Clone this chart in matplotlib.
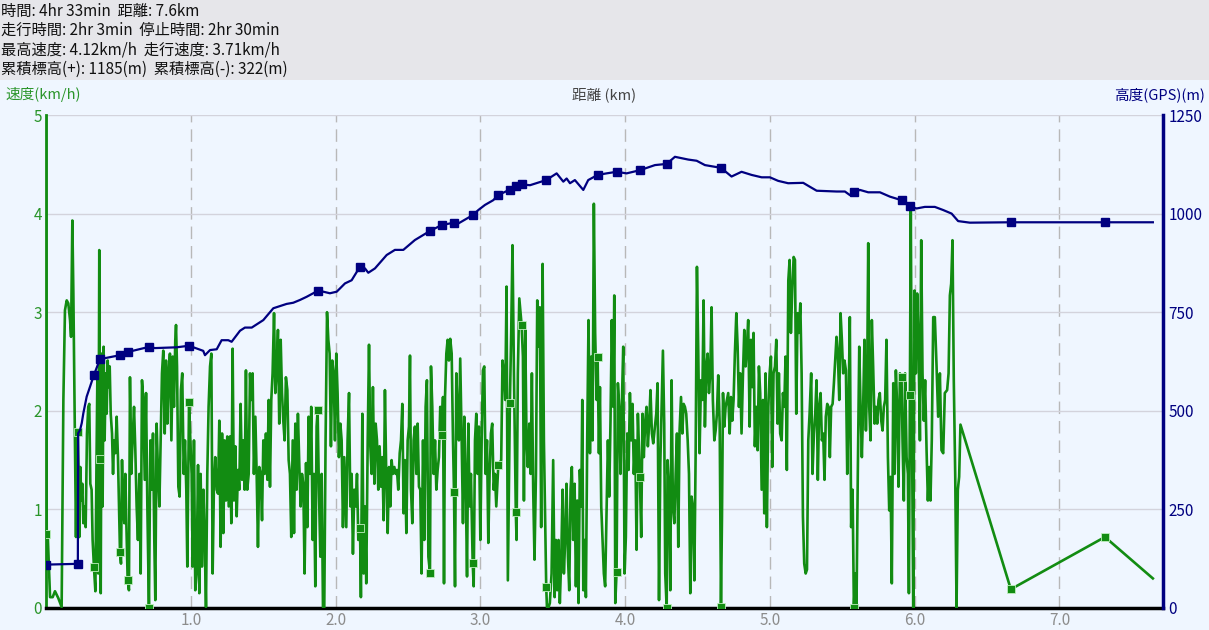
import matplotlib
matplotlib.use("Agg")
import matplotlib.pyplot as plt
import numpy as np

plt.rcParams['font.family'] = ['Noto Sans CJK JP', 'DejaVu Sans']

# header summary
header_lines = [
    "時間: 4hr 33min  距離: 7.6km",
    "走行時間: 2hr 3min  停止時間: 2hr 30min",
    "最高速度: 4.12km/h  走行速度: 3.71km/h",
    "累積標高(+): 1185(m)  累積標高(-): 322(m)",
]

# waypoints (distance m, speed km/h, elevation m)
wp_dist = [0, 220, 331, 373, 511, 564, 711, 988, 1876, 2168, 2652, 2733, 2818, 2947,
           3124, 3204, 3246, 3285, 3455, 3810, 3941, 4102, 4287, 4662, 5580, 5909,
           5967, 6664, 7314]
wp_speed = [0.75, 1.78, 0.42, 1.51, 0.57, 0.28, 0.0, 2.09, 2.01, 0.81, 0.36, 1.75, 1.18,
            0.46, 1.45, 2.08, 0.97, 2.87, 0.21, 2.55, 0.37, 1.33, 0.0, 0.01, 0.0, 2.34,
            2.16, 0.19, 0.72]
wp_elev = [110, 112, 591, 631, 641, 649, 662, 665, 804, 865, 956, 971, 977, 996,
           1047, 1061, 1070, 1074, 1085, 1098, 1106, 1110, 1126, 1116, 1054, 1034,
           1019, 978, 978]

# elevation track (distance m, elevation m)
elev_track = [
    (0, 110), (220, 112), (222, 443), (235, 451), (247, 469), (258, 494), (281, 536),
    (304, 561), (331, 591), (373, 631), (511, 641), (564, 649), (711, 662), (753, 659),
    (903, 661), (988, 665), (1086, 652), (1098, 641), (1133, 654), (1179, 656),
    (1213, 679), (1259, 679), (1282, 675), (1340, 703), (1374, 711), (1421, 711),
    (1501, 730), (1570, 760), (1662, 771), (1708, 774), (1754, 781), (1800, 789),
    (1876, 804), (1915, 802), (1961, 798), (2008, 802), (2065, 823), (2111, 831),
    (2168, 865), (2203, 861), (2226, 850), (2272, 861), (2353, 895), (2410, 908),
    (2468, 908), (2548, 933), (2652, 956), (2733, 971), (2818, 977), (2848, 975),
    (2947, 996), (2986, 1009), (3032, 1022), (3089, 1034), (3124, 1047), (3204, 1061),
    (3246, 1070), (3285, 1074), (3343, 1072), (3455, 1085), (3527, 1102), (3573, 1081),
    (3596, 1089), (3619, 1077), (3653, 1085), (3711, 1060), (3745, 1085), (3810, 1098),
    (3872, 1102), (3941, 1106), (4010, 1102), (4102, 1110), (4206, 1123), (4287, 1126),
    (4344, 1144), (4436, 1137), (4494, 1134), (4551, 1123), (4662, 1116), (4735, 1094),
    (4804, 1106), (4874, 1098), (4943, 1092), (5000, 1092), (5057, 1083), (5126, 1077),
    (5230, 1078), (5276, 1068), (5323, 1058), (5461, 1056), (5518, 1056), (5552, 1047),
    (5580, 1054), (5622, 1060), (5679, 1054), (5760, 1054), (5829, 1043), (5909, 1034),
    (5967, 1019), (6013, 1013), (6070, 1017), (6139, 1017), (6197, 1009), (6255, 1000),
    (6300, 981), (6381, 977), (6664, 978), (7314, 978), (7645, 978),
]

# speed track (distance m, speed km/h), one list per km
speed_km0 = [
    (0, 5.0), (5, 0.75), (12, 0.74), (28, 0.11), (46, 0.11), (62, 0.17), (85, 0.10),
    (108, 0.01), (115, 1.2), (120, 2.11), (131, 3.02), (143, 3.12), (154, 3.09),
    (166, 2.92), (173, 2.75), (182, 3.93), (189, 3.19), (196, 2.21), (203, 1.2),
    (207, 0.72), (212, 1.43), (219, 1.78), (226, 1.36), (230, 0.72), (237, 1.43),
    (244, 1.09), (251, 1.26), (258, 0.86), (267, 1.03), (274, 0.82), (283, 1.77),
    (292, 2.04), (299, 2.07), (306, 1.26), (315, 1.2), (322, 0.69), (331, 0.42),
    (341, 0.17), (348, 1.36), (355, 2.38), (361, 0.35), (368, 3.63), (373, 1.51),
    (378, 0.15), (384, 2.58), (391, 1.03), (398, 2.65), (405, 1.7), (412, 2.38),
    (419, 1.97), (426, 2.51), (433, 2.24), (440, 2.45), (447, 1.97), (456, 1.77),
    (463, 1.36), (470, 1.7), (479, 1.57), (488, 1.94), (497, 1.53), (504, 1.03),
    (511, 0.57), (518, 0.45), (525, 1.5), (532, 1.03), (541, 0.86), (548, 1.36),
    (555, 0.86), (564, 0.28), (573, 0.18), (580, 2.34), (589, 1.36), (598, 1.7),
    (608, 2.04), (617, 1.6), (626, 1.03), (635, 0.69), (645, 1.36), (654, 0.35),
    (663, 2.31), (672, 2.11), (682, 1.3), (691, 2.18), (700, 1.03), (711, 0.0),
    (721, 1.7), (730, 1.2), (739, 1.77), (748, 0.69), (755, 0.08), (764, 1.87),
    (774, 1.36), (783, 1.03), (792, 1.7), (801, 2.38), (810, 2.61), (820, 1.77),
    (829, 2.51), (838, 1.87), (847, 2.38), (856, 2.58), (866, 1.7), (875, 2.55),
    (884, 2.04), (893, 2.72), (898, 2.87), (905, 2.45), (914, 1.23), (923, 1.13),
    (932, 2.21), (941, 2.38), (951, 1.36), (960, 1.7), (969, 1.2), (976, 0.42),
    (988, 2.09), (997, 1.7), (1006, 1.36),
]
speed_km1 = [
    (1013, 0.42), (1022, 1.7), (1031, 0.18), (1040, 0.35), (1050, 1.45), (1059, 0.15),
    (1068, 1.36), (1077, 0.42), (1087, 1.2), (1096, 0.69), (1105, 0.01), (1114, 1.36),
    (1123, 2.04), (1133, 2.45), (1142, 2.58), (1151, 0.35), (1160, 1.26), (1169, 1.53),
    (1179, 1.2), (1188, 1.16), (1197, 1.9), (1206, 0.62), (1216, 1.77), (1225, 0.76),
    (1234, 1.7), (1243, 1.09), (1252, 1.74), (1262, 1.03), (1271, 1.74), (1280, 0.86),
    (1289, 2.63), (1298, 1.09), (1308, 1.64), (1317, 0.93), (1326, 1.4), (1335, 1.2),
    (1344, 2.07), (1354, 1.3), (1363, 1.7), (1372, 1.2), (1381, 2.41), (1390, 1.2),
    (1400, 1.36), (1409, 2.38), (1418, 2.11), (1427, 2.38), (1436, 1.36), (1446, 1.94),
    (1455, 1.36), (1464, 0.62), (1473, 1.43), (1483, 1.36), (1492, 0.89), (1501, 1.7),
    (1510, 1.36), (1519, 1.77), (1529, 1.3), (1538, 2.11), (1547, 1.23), (1556, 2.11),
    (1565, 2.38), (1575, 2.99), (1584, 2.18), (1593, 2.41), (1602, 2.82), (1611, 1.87),
    (1621, 2.72), (1630, 2.18), (1639, 1.9), (1648, 1.7), (1657, 2.34), (1667, 2.21),
    (1676, 1.5), (1685, 1.36), (1694, 0.72), (1704, 1.7), (1713, 0.76), (1722, 1.87),
    (1731, 1.2), (1740, 1.97), (1750, 1.43), (1759, 1.03), (1768, 1.36), (1777, 1.26),
    (1786, 0.35), (1796, 1.47), (1805, 0.82), (1814, 1.94), (1823, 1.36), (1832, 2.04),
    (1842, 0.69), (1851, 1.36), (1860, 0.22), (1869, 1.84), (1876, 2.01), (1885, 1.2),
    (1895, 0.52), (1904, 1.36), (1913, 0.01), (1922, 0.0), (1931, 1.7), (1941, 3.0),
    (1950, 2.72), (1959, 2.58), (1968, 1.64), (1977, 2.51), (1987, 2.38), (1996, 1.7),
    (2005, 2.58), (2014, 2.18), (2023, 1.53), (2033, 1.87), (2042, 1.7), (2051, 0.82),
    (2060, 1.53),
]
speed_km2 = [
    (2074, 0.82), (2083, 1.7), (2093, 2.18), (2102, 1.03), (2111, 1.36), (2120, 0.55),
    (2129, 1.2), (2139, 1.03), (2148, 1.36), (2157, 0.69), (2169, 0.81), (2175, 0.11),
    (2185, 1.97), (2194, 0.35), (2203, 1.03), (2212, 0.25), (2222, 1.7), (2231, 2.67),
    (2240, 1.64), (2249, 1.36), (2258, 2.24), (2268, 1.26), (2277, 1.87), (2286, 1.7),
    (2295, 1.2), (2304, 1.64), (2314, 1.23), (2323, 1.53), (2332, 0.89), (2341, 2.21),
    (2350, 1.36), (2360, 0.76), (2369, 1.43), (2378, 1.03), (2387, 1.5), (2396, 1.36),
    (2406, 1.43), (2415, 1.36), (2424, 1.4), (2433, 1.2), (2443, 1.57), (2452, 1.7),
    (2461, 2.07), (2470, 0.96), (2479, 1.5), (2489, 0.76), (2498, 1.7), (2507, 1.84),
    (2514, 2.56), (2521, 1.2), (2530, 0.86), (2539, 1.7), (2548, 1.84), (2558, 1.36),
    (2567, 1.87), (2576, 1.23), (2585, 1.2), (2594, 0.35), (2604, 1.7), (2613, 0.69),
    (2622, 2.04), (2631, 2.31), (2641, 0.52), (2652, 0.36), (2659, 2.45), (2668, 2.04),
    (2677, 1.36), (2687, 1.7), (2696, 1.2), (2705, 1.4), (2714, 1.53), (2723, 2.04),
    (2733, 1.75), (2742, 2.14), (2749, 0.25), (2756, 2.14), (2765, 2.58), (2774, 2.72),
    (2783, 2.51), (2792, 2.73), (2802, 2.58), (2811, 1.7), (2818, 1.18), (2825, 0.22),
    (2834, 2.38), (2843, 1.97), (2852, 1.7), (2861, 2.53), (2871, 1.7), (2880, 0.86),
    (2889, 1.94), (2898, 1.36), (2908, 0.32), (2917, 1.87), (2926, 1.03), (2935, 1.36),
    (2947, 0.46), (2954, 0.22), (2963, 1.7), (2972, 1.97), (2981, 1.36), (2990, 1.84),
    (3000, 0.69), (3009, 1.7), (3018, 2.41), (3027, 2.45), (3036, 1.36), (3046, 1.7),
    (3055, 0.66), (3064, 1.36), (3073, 1.77), (3082, 1.87), (3092, 1.2), (3101, 1.36),
    (3110, 1.03), (3124, 1.45),
]
speed_km3 = [
    (3144, 1.5), (3153, 2.51), (3163, 2.38), (3172, 2.11), (3181, 3.26), (3190, 0.28),
    (3204, 2.08), (3213, 2.79), (3222, 3.68), (3232, 2.38), (3245, 0.97), (3250, 0.69),
    (3259, 2.38), (3269, 3.14), (3278, 2.99), (3285, 2.87), (3294, 2.55), (3301, 1.09),
    (3310, 2.82), (3319, 1.7), (3328, 1.43), (3338, 1.87), (3347, 1.36), (3356, 2.38),
    (3365, 1.2), (3374, 0.49), (3384, 1.36), (3393, 3.12), (3402, 2.65), (3411, 3.05),
    (3420, 0.82), (3430, 3.49), (3439, 1.7), (3448, 0.86), (3455, 0.21), (3460, 0.01),
    (3469, 0.0), (3480, 0.05), (3492, 0.35), (3503, 1.5), (3513, 0.11), (3522, 0.69),
    (3531, 0.18), (3540, 0.69), (3549, 0.05), (3559, 0.52), (3568, 1.2), (3577, 0.35),
    (3586, 0.69), (3595, 1.26), (3605, 0.52), (3614, 0.18), (3623, 1.2), (3632, 1.43),
    (3641, 0.69), (3651, 1.26), (3660, 0.22), (3669, 1.09), (3678, 0.05), (3687, 1.4),
    (3697, 1.03), (3704, 2.11), (3711, 0.18), (3720, 0.69), (3729, 0.11), (3738, 1.7),
    (3747, 2.92), (3757, 1.57), (3766, 2.55), (3775, 1.7), (3784, 4.1), (3793, 2.79),
    (3803, 2.11), (3810, 2.55), (3819, 1.57), (3826, 2.24), (3835, 1.03), (3844, 0.69),
    (3853, 0.35), (3862, 0.22), (3872, 1.03), (3881, 1.7), (3890, 1.13), (3899, 1.9),
    (3908, 2.92), (3918, 2.04), (3925, 3.17), (3932, 0.05), (3941, 0.37), (3950, 2.28),
    (3959, 2.04), (3968, 1.36), (3978, 2.11), (3987, 2.65), (3996, 0.35), (4005, 0.72),
    (4014, 1.77), (4024, 1.4), (4033, 2.18), (4042, 1.7), (4051, 2.07), (4060, 1.36),
    (4070, 1.7), (4079, 0.59), (4088, 1.97), (4102, 1.33), (4111, 0.72), (4120, 1.97),
    (4129, 1.53), (4139, 1.9), (4148, 2.04), (4157, 1.64), (4166, 1.87), (4175, 2.21),
    (4185, 1.77), (4194, 1.67),
]
speed_km4 = [
    (4215, 1.97), (4224, 2.28), (4234, 0.08), (4243, 1.47), (4252, 2.04), (4261, 2.61),
    (4270, 1.87), (4277, 0.35), (4287, 0.0), (4293, 1.5), (4303, 1.2), (4312, 0.18),
    (4321, 2.31), (4330, 1.03), (4340, 0.86), (4349, 1.36), (4358, 1.77), (4367, 0.62),
    (4376, 1.8), (4386, 2.14), (4395, 1.77), (4404, 2.07), (4413, 2.04), (4422, 1.97),
    (4432, 1.7), (4441, 1.36), (4450, 0.15), (4459, 1.13), (4468, 1.03), (4478, 0.28),
    (4487, 1.57), (4496, 3.46), (4505, 2.61), (4514, 1.57), (4524, 2.31), (4533, 2.11),
    (4542, 3.12), (4551, 1.84), (4561, 2.45), (4570, 2.58), (4579, 2.18), (4588, 2.38),
    (4597, 3.05), (4606, 2.11), (4616, 1.7), (4625, 1.8), (4634, 1.97), (4643, 2.36),
    (4653, 1.87), (4662, 0.01), (4669, 0.93), (4676, 2.18), (4685, 1.84), (4694, 2.04),
    (4703, 2.11), (4712, 2.18), (4722, 1.77), (4731, 2.14), (4740, 1.9), (4749, 2.11),
    (4758, 2.58), (4768, 2.99), (4777, 2.65), (4786, 2.04), (4795, 2.38), (4804, 1.77),
    (4814, 2.38), (4823, 2.82), (4832, 2.45), (4841, 2.65), (4850, 2.92), (4860, 1.84),
    (4869, 2.72), (4878, 2.24), (4887, 2.79), (4896, 1.64), (4906, 2.04), (4915, 1.6),
    (4924, 2.45), (4933, 2.18), (4943, 1.2), (4952, 2.11), (4961, 0.96), (4970, 2.38),
    (4979, 0.82), (4989, 2.04), (4998, 2.38), (5007, 2.55), (5016, 1.43), (5025, 2.38),
    (5035, 2.45), (5044, 2.72), (5053, 1.87), (5062, 2.38), (5071, 1.77), (5081, 1.7),
    (5090, 2.18), (5099, 2.04), (5108, 2.55), (5117, 1.4), (5127, 3.32), (5136, 3.53),
    (5145, 2.79), (5154, 3.22), (5164, 3.56), (5173, 3.53), (5182, 1.97), (5191, 2.99),
    (5200, 2.79), (5210, 3.09), (5219, 2.38), (5228, 0.93), (5237, 0.45), (5247, 0.35),
    (5256, 0.39), (5265, 1.7), (5274, 1.97),
]
speed_km5 = [
    (5285, 2.38), (5294, 1.36), (5304, 1.77), (5313, 1.97), (5322, 2.31), (5331, 1.3),
    (5340, 2.04), (5350, 2.18), (5359, 1.7), (5368, 1.77), (5377, 1.3), (5386, 1.94),
    (5396, 2.07), (5405, 2.04), (5414, 1.53), (5423, 2.04), (5433, 2.07), (5442, 2.28),
    (5451, 2.51), (5460, 2.75), (5469, 2.58), (5479, 2.11), (5488, 2.99), (5497, 2.72),
    (5506, 2.38), (5515, 2.51), (5525, 2.41), (5534, 1.36), (5543, 2.04), (5552, 2.95),
    (5561, 0.82), (5571, 1.2), (5580, 0.0), (5589, 0.35), (5598, 0.0), (5607, 1.36),
    (5617, 2.65), (5626, 2.04), (5635, 1.53), (5644, 2.04), (5653, 2.72), (5663, 1.8),
    (5672, 2.38), (5679, 3.7), (5686, 2.04), (5695, 1.7), (5704, 2.92), (5713, 2.45),
    (5723, 1.87), (5732, 2.04), (5741, 1.87), (5750, 2.11), (5759, 2.18), (5769, 1.9),
    (5778, 1.8), (5787, 2.04), (5796, 2.11), (5805, 2.72), (5815, 1.53), (5824, 0.99),
    (5833, 1.33), (5842, 0.25), (5852, 2.28), (5861, 1.36), (5870, 2.41), (5879, 2.04),
    (5888, 1.23), (5898, 2.38), (5909, 2.34), (5916, 1.7), (5925, 1.09), (5934, 2.38),
    (5944, 1.53), (5953, 1.36), (5960, 0.15), (5967, 2.16), (5973, 4.03), (5980, 2.04),
    (5990, 0.0), (5999, 3.22), (6008, 2.38), (6017, 3.19), (6026, 2.72), (6036, 1.7),
    (6045, 3.73), (6054, 2.38), (6063, 1.9), (6072, 2.31), (6082, 1.6), (6091, 1.09),
    (6100, 1.43), (6109, 1.09), (6118, 1.7), (6128, 2.95), (6139, 2.95), (6151, 2.45),
    (6162, 1.94), (6174, 2.38), (6185, 1.6), (6197, 1.57), (6208, 2.18), (6224, 2.21),
    (6234, 2.38), (6243, 3.17), (6252, 3.29), (6261, 3.73), (6270, 2.31), (6280, 1.33),
    (6289, 0.0), (6298, 1.2), (6307, 1.33), (6316, 1.86),
]
speed_tail = [(6664, 0.19), (7314, 0.72), (7645, 0.30)]

speed_track = speed_km0 + speed_km1 + speed_km2 + speed_km3 + speed_km4 + speed_km5 + speed_tail
sp_d = np.array([p[0] for p in speed_track]) / 1000.0
sp_v = np.array([p[1] for p in speed_track])
el_d = np.array([p[0] for p in elev_track]) / 1000.0
el_v = np.array([p[1] for p in elev_track])
wp_km = np.array(wp_dist) / 1000.0

GREEN = '#128c12'
NAVY = '#000080'
W, H = 1209, 630

fig = plt.figure(figsize=(W / 100, H / 100), dpi=100, facecolor='#eff6ff')
# grey header band
fig.patches.append(plt.Rectangle((0, 1 - 80 / H), 1, 80 / H, transform=fig.transFigure,
                                 facecolor='#e6e6ea', edgecolor='none', zorder=0))
for i, line in enumerate(header_lines):
    fig.text(1 / W, 1 - (11 + 19.5 * i) / H, line, fontsize=11, color='#111111',
             va='center', ha='left')

ax = fig.add_axes([46 / W, 1 - 608 / H, (1163 - 46) / W, (608 - 115) / H])
ax.patch.set_visible(False)
ax2 = ax.twinx()

ax.plot(sp_d, sp_v, color=GREEN, lw=1.9, zorder=3)
ax.plot(wp_km, wp_speed, ls='none', marker='s', ms=5.5, mfc=GREEN, mec='#bfeebf',
        mew=0.6, zorder=4)

ax2.plot(el_d, el_v, color=NAVY, lw=1.6, zorder=3)
ax2.plot(wp_km, wp_elev, ls='none', marker='s', ms=5.5, mfc=NAVY, mec=NAVY, zorder=4)

ax.set_xlim(0, 7.715)
ax.set_ylim(0, 5)
ax2.set_ylim(0, 1250)

ax.set_xticks(range(1, 8))
ax.set_xticklabels([f"{k}.0" for k in range(1, 8)])
ax.set_yticks(range(0, 6))
ax2.set_yticks(range(0, 1251, 250))

ax.set_axisbelow(True)
ax.grid(axis='y', color='#d3d3dc', lw=1)
ax.grid(axis='x', color='#b8b8b8', lw=1, linestyle=(0, (9, 5)))

ax.tick_params(axis='x', length=0, pad=3, labelsize=11, labelcolor='#8c8c8c')
ax.tick_params(axis='y', length=0, pad=3, labelsize=11, labelcolor='#2a952a')
ax2.tick_params(axis='y', length=0, pad=4, labelsize=11, labelcolor=NAVY)

for s in ['top', 'right']:
    ax.spines[s].set_visible(False)
for s in ['top', 'left', 'bottom']:
    ax2.spines[s].set_visible(False)
ax.spines['left'].set_color(GREEN)
ax.spines['left'].set_linewidth(2)
ax.spines['bottom'].set_color('#000000')
ax.spines['bottom'].set_linewidth(2.5)
ax2.spines['right'].set_color(NAVY)
ax2.spines['right'].set_linewidth(2.5)

ty = 1 - 95 / H
fig.text(5 / W, ty, "速度(km/h)", color='#2a952a', fontsize=10.5, va='center', ha='left')
fig.text(604 / W, ty, "距離 (km)", color='#444444', fontsize=10.5, va='center', ha='center')
fig.text(1205 / W, ty, "高度(GPS)(m)", color=NAVY, fontsize=10.5, va='center', ha='right')

fig.savefig("out.png", dpi=100, facecolor=fig.get_facecolor())
